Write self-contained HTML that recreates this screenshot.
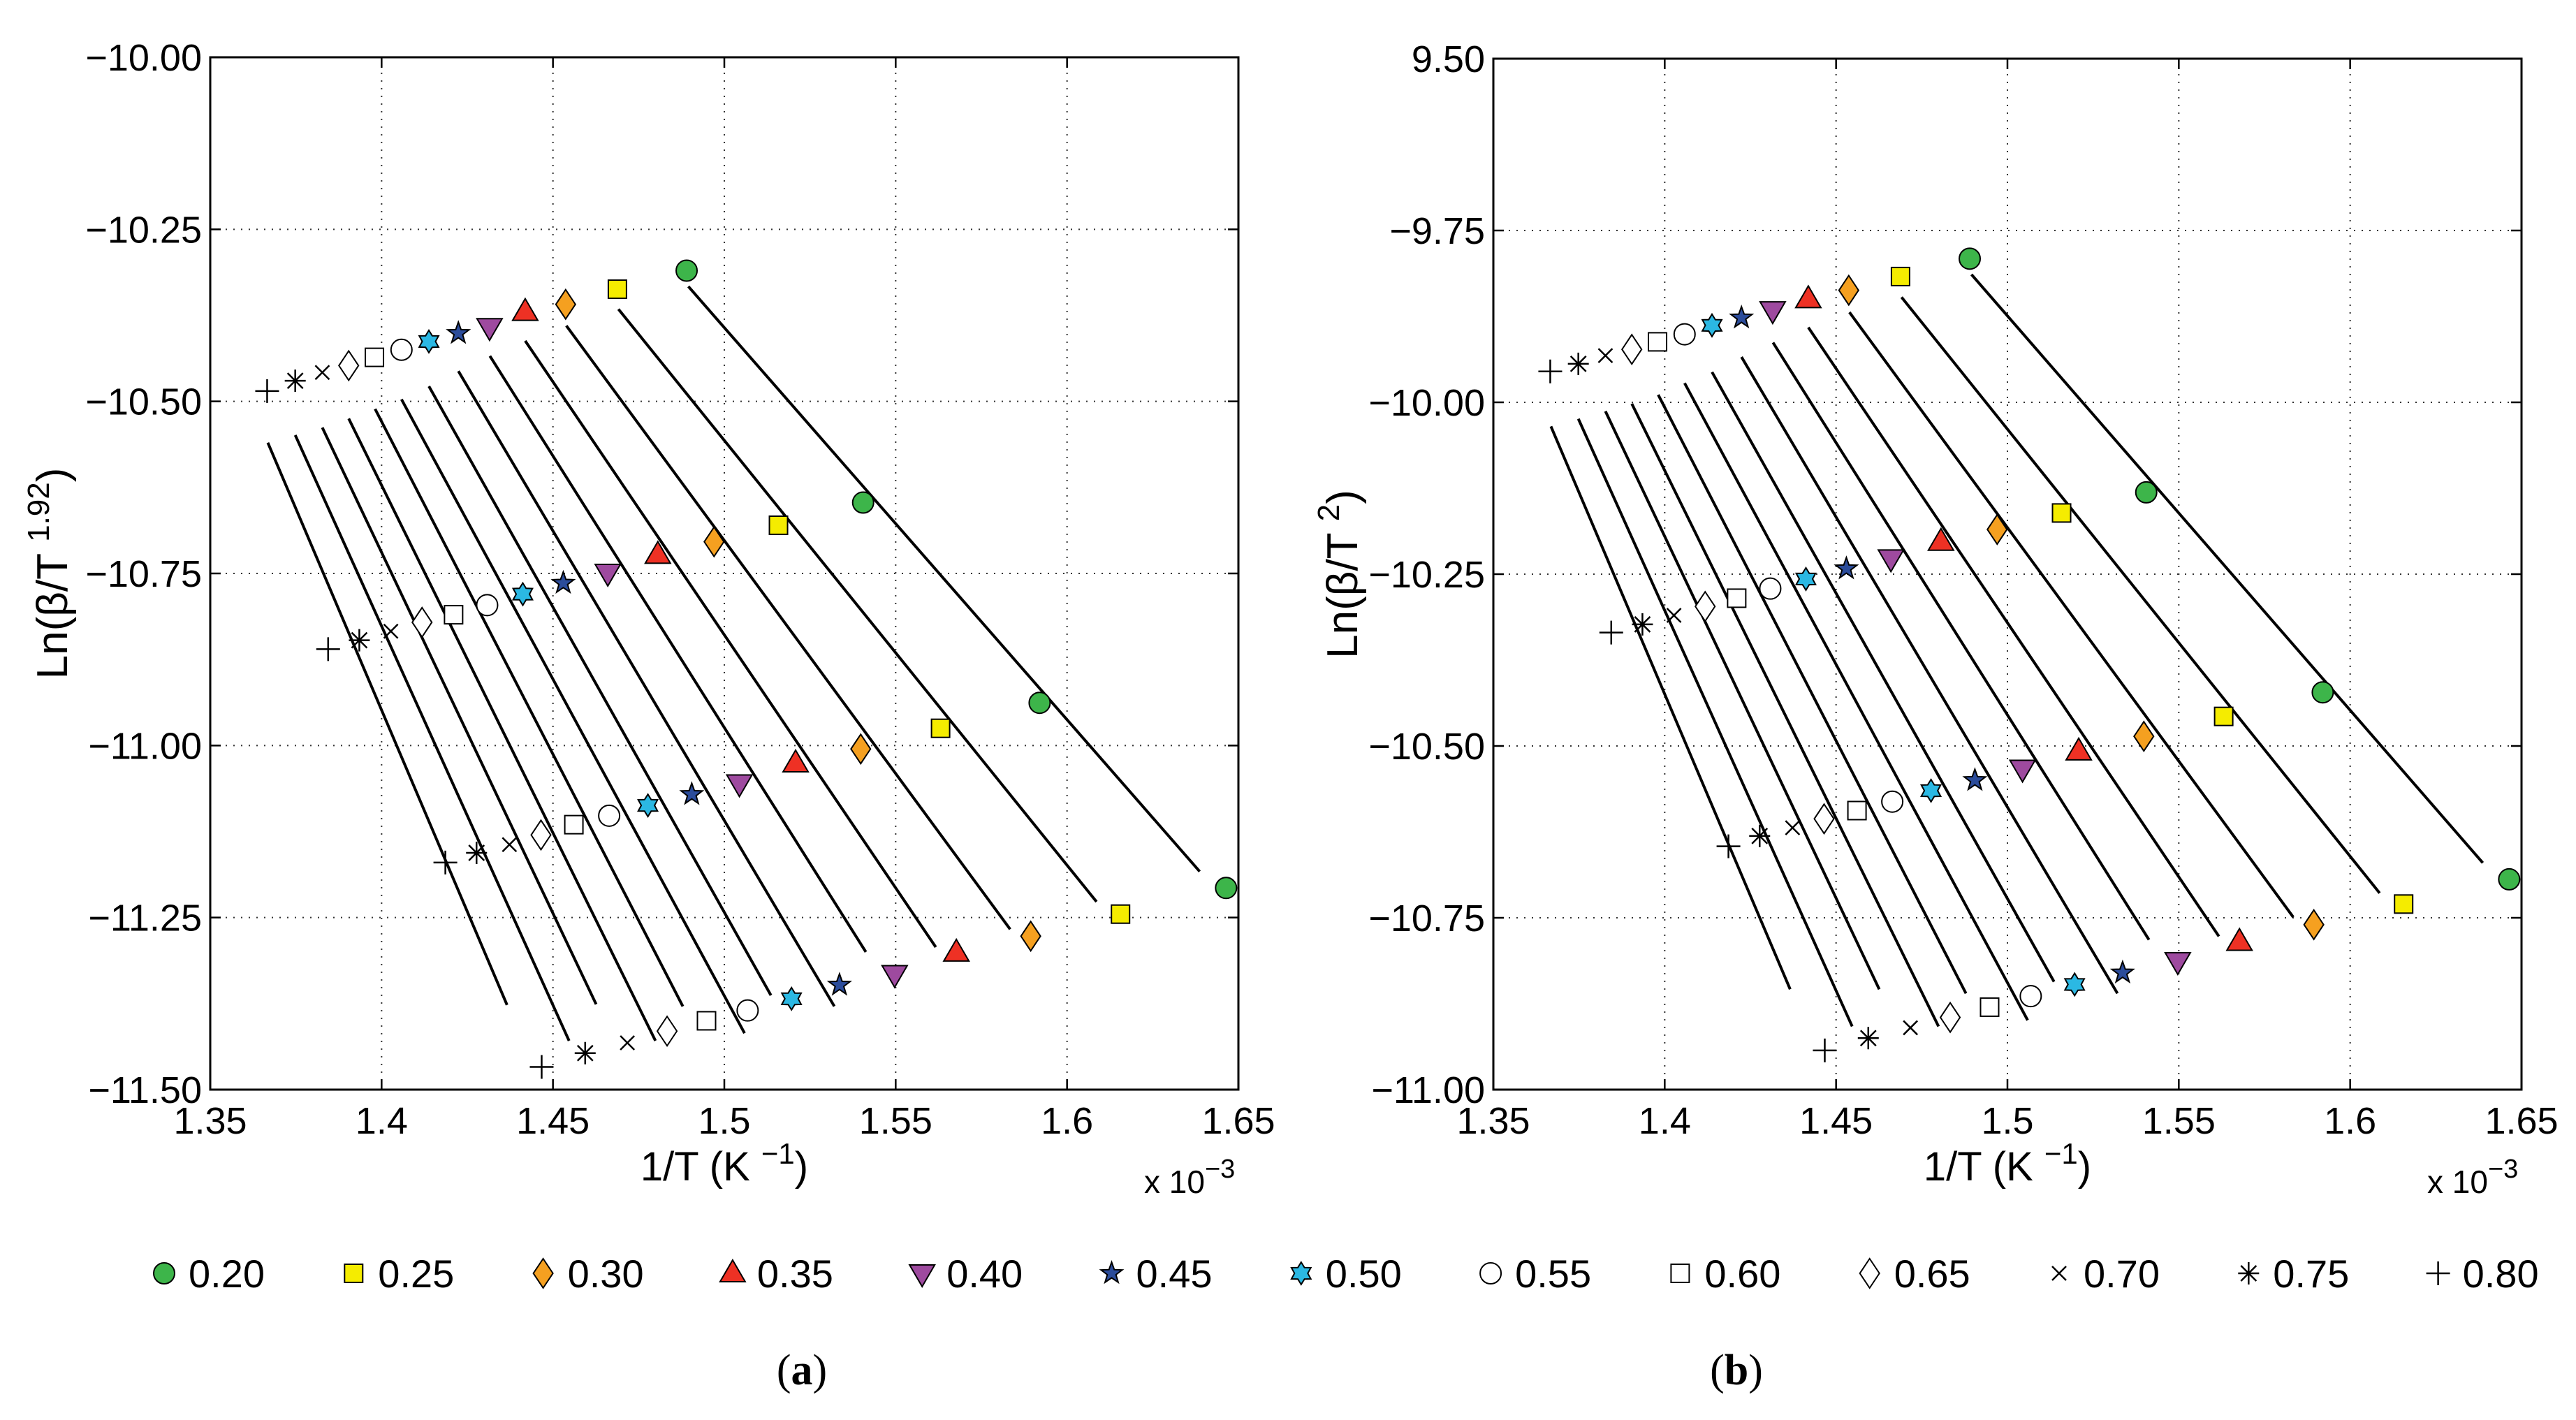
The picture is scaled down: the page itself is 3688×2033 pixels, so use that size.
<!DOCTYPE html>
<html><head><meta charset="utf-8">
<style>
html,body{margin:0;padding:0;background:#fff;}
svg{display:block;}
text{font-family:"Liberation Sans",sans-serif;fill:#000;}
</style></head>
<body>
<svg id="fig" width="3688" height="2033" viewBox="0 0 3688 2033" xmlns="http://www.w3.org/2000/svg">
<rect width="3688" height="2033" fill="#fff"/>
<g id="plotA"></g>
<g id="plotB"></g>
<g id="legend"></g>
<text x="1148" y="1982" text-anchor="middle" style="font-family:'Liberation Serif',serif;font-size:62px;">(<tspan font-weight="bold">a</tspan>)</text>
<text x="2486" y="1982" text-anchor="middle" style="font-family:'Liberation Serif',serif;font-size:62px;">(<tspan font-weight="bold">b</tspan>)</text>
</svg>
<script>
const NS="http://www.w3.org/2000/svg";
// ---- data ----
const alphas=["0.20","0.25","0.30","0.35","0.40","0.45","0.50","0.55","0.60","0.65","0.70","0.75","0.80"];
const invT=[
[1.4890,1.5405,1.5920,1.6464],
[1.4688,1.5158,1.5631,1.6156],
[1.4537,1.4970,1.5398,1.5894],
[1.4419,1.4806,1.5208,1.5677],
[1.4315,1.4660,1.5044,1.5497],
[1.4224,1.4530,1.4905,1.5336],
[1.4138,1.4412,1.4777,1.5196],
[1.4058,1.4308,1.4664,1.5068],
[1.3979,1.4210,1.4561,1.4948],
[1.3904,1.4118,1.4465,1.4833],
[1.3827,1.4027,1.4373,1.4717],
[1.3748,1.3935,1.4277,1.4594],
[1.3666,1.3844,1.4186,1.4467]];
const yA=[
[-10.310,-10.647,-10.938,-11.207],
[-10.337,-10.680,-10.975,-11.245],
[-10.359,-10.704,-11.005,-11.277],
[-10.370,-10.723,-11.026,-11.301],
[-10.392,-10.749,-11.055,-11.332],
[-10.401,-10.764,-11.071,-11.348],
[-10.413,-10.780,-11.087,-11.368],
[-10.425,-10.796,-11.102,-11.385],
[-10.436,-10.810,-11.115,-11.400],
[-10.448,-10.821,-11.130,-11.415],
[-10.458,-10.834,-11.144,-11.432],
[-10.470,-10.847,-11.156,-11.447],
[-10.485,-10.860,-11.170,-11.467]];
const yB=[
[-9.791,-10.131,-10.422,-10.694],
[-9.817,-10.161,-10.457,-10.730],
[-9.837,-10.185,-10.486,-10.760],
[-9.850,-10.203,-10.508,-10.785],
[-9.866,-10.227,-10.533,-10.813],
[-9.877,-10.242,-10.550,-10.830],
[-9.888,-10.257,-10.565,-10.847],
[-9.901,-10.271,-10.581,-10.864],
[-9.912,-10.285,-10.594,-10.880],
[-9.923,-10.297,-10.606,-10.895],
[-9.932,-10.310,-10.619,-10.910],
[-9.944,-10.323,-10.631,-10.925],
[-9.955,-10.335,-10.646,-10.943]];
const lineX1=[1.4895,1.4691,1.4539,1.4419,1.4316,1.4224,1.4138,1.4058,1.3981,1.3904,1.3827,1.3748,1.3668];
const lineX2=[1.6387,1.6086,1.5834,1.5617,1.5413,1.5321,1.5136,1.5059,1.4879,1.4799,1.4626,1.4547,1.4366];
const lineA1=[-10.333,-10.366,-10.390,-10.412,-10.434,-10.456,-10.478,-10.497,-10.511,-10.525,-10.538,-10.549,-10.560];
const lineA2=[-11.183,-11.227,-11.267,-11.293,-11.300,-11.379,-11.363,-11.418,-11.379,-11.429,-11.376,-11.429,-11.377];
const lineB1=[-9.814,-9.847,-9.869,-9.891,-9.913,-9.934,-9.956,-9.972,-9.989,-10.002,-10.013,-10.024,-10.035];
const lineB2=[-10.670,-10.714,-10.749,-10.777,-10.782,-10.860,-10.843,-10.899,-10.860,-10.908,-10.854,-10.908,-10.854];
const xTicks=[1.35,1.4,1.45,1.5,1.55,1.6,1.65];
const xTickLabels=["1.35","1.4","1.45","1.5","1.55","1.6","1.65"];
const yTicksA=[-10,-10.25,-10.5,-10.75,-11,-11.25,-11.5];
const yTickLabelsA=["\u221210.00","\u221210.25","\u221210.50","\u221210.75","\u221211.00","\u221211.25","\u221211.50"];
const yTicksB=[-9.5,-9.75,-10,-10.25,-10.5,-10.75,-11];
const yTickLabelsB=["9.50","\u22129.75","\u221210.00","\u221210.25","\u221210.50","\u221210.75","\u221211.00"];
const markerTypes=["circle","square","diamond","triup","tridown","star","hexa","ocircle","osquare","odiamond","x","asterisk","plus"];
const markerFills=["#3db54a","#f5ec00","#f5a020","#ee3124","#9e4a9f","#2b4c9b","#2bb8e3","#fff","#fff","#fff","none","none","none"];

function el(tag,attrs,parent){const e=document.createElementNS(NS,tag);for(const k in attrs)e.setAttribute(k,attrs[k]);if(parent)parent.appendChild(e);return e;}

function marker(g,type,cx,cy,fill,name){
  const st={fill:fill,stroke:"#000","stroke-width":2};
  let m;
  if(type==="circle"||type==="ocircle"){m=el("circle",Object.assign({cx:cx,cy:cy,r:15},st),g);}
  else if(type==="square"||type==="osquare"){m=el("rect",Object.assign({x:cx-13,y:cy-13,width:26,height:26},st),g);}
  else if(type==="diamond"||type==="odiamond"){m=el("polygon",Object.assign({points:`${cx},${cy-21} ${cx+14},${cy} ${cx},${cy+21} ${cx-14},${cy}`},st),g);}
  else if(type==="triup"){m=el("polygon",Object.assign({points:`${cx},${cy-19} ${cx+18},${cy+12} ${cx-18},${cy+12}`},st),g);}
  else if(type==="tridown"){m=el("polygon",Object.assign({points:`${cx},${cy+19} ${cx+18},${cy-12} ${cx-18},${cy-12}`},st),g);}
  else if(type==="star"){let p=[];for(let i=0;i<10;i++){const r=i%2?6.5:16;const a=-Math.PI/2+i*Math.PI/5;p.push((cx+r*Math.cos(a)).toFixed(1)+","+(cy+r*Math.sin(a)).toFixed(1));}m=el("polygon",Object.assign({points:p.join(" ")},st),g);}
  else if(type==="hexa"){let p=[];for(let i=0;i<12;i++){const r=i%2?9.5:16;const a=-Math.PI/2+i*Math.PI/6;p.push((cx+r*Math.cos(a)).toFixed(1)+","+(cy+r*Math.sin(a)).toFixed(1));}m=el("polygon",Object.assign({points:p.join(" ")},st),g);}
  else if(type==="x"){m=el("path",{d:`M${cx-10},${cy-10}L${cx+10},${cy+10}M${cx-10},${cy+10}L${cx+10},${cy-10}`,stroke:"#000","stroke-width":2.5,fill:"none"},g);}
  else if(type==="asterisk"){m=el("path",{d:`M${cx},${cy-16}L${cx},${cy+16}M${cx-15},${cy}L${cx+15},${cy}M${cx-11},${cy-11}L${cx+11},${cy+11}M${cx-11},${cy+11}L${cx+11},${cy-11}`,stroke:"#000","stroke-width":2.5,fill:"none"},g);}
  else {m=el("path",{d:`M${cx},${cy-17}L${cx},${cy+17}M${cx-17},${cy}L${cx+17},${cy}`,stroke:"#000","stroke-width":2.5,fill:"none"},g);}
  
  
  return m;
}

function drawPlot(g,L,T,R,B,ymax,ymin,yT,yTL,ys,l1,l2,ylabelSup,ylabelX,tag){
  const xs=v=>L+(v-1.35)/0.3*(R-L);
  const yv=v=>T+(ymax-v)/(ymax-ymin)*(B-T);
  xTicks.forEach((t,i)=>{
    if(i>0&&i<xTicks.length-1){const gl=el("line",{x1:xs(t),x2:xs(t),y1:T,y2:B,stroke:"#333","stroke-width":2,"stroke-dasharray":"2,9"},g);
    
    }
    const tk=el("path",{d:`M${xs(t)},${B}V${B-15}M${xs(t)},${T}V${T+15}`,stroke:"#000","stroke-width":2.5},g);
    
    
    const tx=el("text",{x:xs(t),y:B+63,"text-anchor":"middle","font-size":54},g);tx.textContent=xTickLabels[i];
    
    
  });
  yT.forEach((t,i)=>{
    if(i>0&&i<yT.length-1){const gl=el("line",{x1:L,x2:R,y1:yv(t),y2:yv(t),stroke:"#333","stroke-width":2,"stroke-dasharray":"2,9"},g);
    
    }
    const tk=el("path",{d:`M${L},${yv(t)}H${L+15}M${R},${yv(t)}H${R-15}`,stroke:"#000","stroke-width":2.5},g);
    
    
    const tx=el("text",{x:L-12,y:yv(t)+19,"text-anchor":"end","font-size":54},g);tx.textContent=yTL[i];
    
    
  });
  const box=el("rect",{x:L,y:T,width:R-L,height:B-T,fill:"none",stroke:"#000","stroke-width":3},g);
  
  
  for(let i=0;i<alphas.length;i++){
    const ln=el("line",{x1:xs(lineX1[i]),y1:yv(l1[i]),x2:xs(lineX2[i]),y2:yv(l2[i]),stroke:"#000","stroke-width":4},g);
    
    
  }
  for(let i=0;i<alphas.length;i++){
    for(let j=0;j<4;j++){
      marker(g,markerTypes[i],xs(invT[i][j]),yv(ys[i][j]),markerFills[i],'point-'+alphas[i]);
    }
  }
  const xl=el("text",{x:(L+R)/2,y:B+130,"text-anchor":"middle","font-size":58},g);
  xl.innerHTML='1/T (K <tspan dy="-24" font-size="42">\u22121</tspan><tspan dy="24">)</tspan>';
  
  
  const xm=el("text",{x:R-135,y:B+148,"font-size":46},g);
  xm.innerHTML='x 10<tspan dy="-22" font-size="38">\u22123</tspan>';
  
  
  const cy=(T+B)/2;
  const yl=el("text",{x:ylabelX,y:cy,"text-anchor":"middle","font-size":62,transform:`rotate(-90 ${ylabelX} ${cy})`},g);
  yl.innerHTML='Ln(\u03b2/T <tspan dy="-26" font-size="44">'+ylabelSup+'</tspan><tspan dy="26">)</tspan>';
  
  
}

drawPlot(document.getElementById("plotA"),301,82,1773,1560,-10,-11.5,yTicksA,yTickLabelsA,yA,lineA1,lineA2,"1.92",96,"a");
drawPlot(document.getElementById("plotB"),2138,84,3610,1560,-9.5,-11,yTicksB,yTickLabelsB,yB,lineB1,lineB2,"2",1943,"b");

const lg=document.getElementById("legend");
const legX0=235, legStep=271.3, legY=1823;
for(let i=0;i<alphas.length;i++){
  const cx=legX0+i*legStep;
  marker(lg,markerTypes[i],cx,legY,markerFills[i],'legend-marker-'+alphas[i]);
  const t=el("text",{x:cx+35,y:legY+20,"font-size":56},lg);
  t.textContent=alphas[i];
  
  
}
</script>
</body></html>
